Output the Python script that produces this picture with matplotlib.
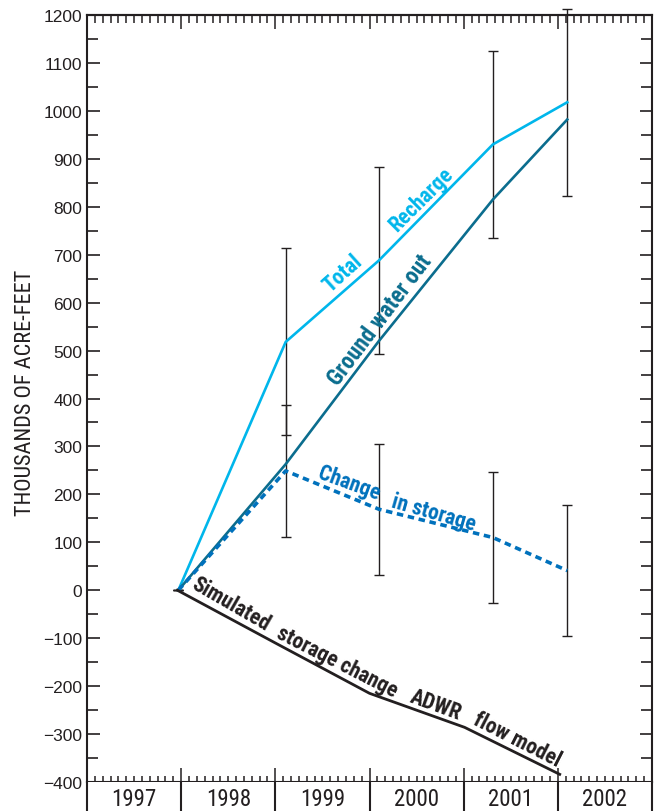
import matplotlib
matplotlib.use("Agg")
import matplotlib.pyplot as plt
from matplotlib import font_manager as fm
from matplotlib.ticker import MultipleLocator

# ---------------- data ----------------
point_years = [1997.97, 1999.11, 2000.10, 2001.31, 2002.10]
total_recharge = [0, 518, 688, 930, 1018]
groundwater_out = [0, 263, 520, 815, 982]
change_in_storage = [0, 249, 169, 110, 41]
recharge_err = [0, 195, 195, 195, 195]
storage_err = [0, 138, 137, 136, 137]

sim_years = [1997.96, 1999.0, 2000.0, 2001.01, 2002.02]
sim_storage = [0, -110, -215, -286, -384]

year_labels = ["1997", "1998", "1999", "2000", "2001", "2002"]
y_ticks = list(range(-400, 1201, 100))

# ---------------- fonts ----------------
_files = fm.findSystemFonts()


def _find(cands):
    for c in cands:
        for f in _files:
            if f.split("/")[-1].lower() == c.lower():
                return fm.FontProperties(fname=f)
    return None


NARROW_R = _find(["RobotoCondensed-Regular.ttf", "LiberationSansNarrow-Regular.ttf",
                  "PT_Sans-Narrow-Web-Regular.ttf", "DejaVuSansCondensed.ttf"]) \
    or fm.FontProperties(family="DejaVu Sans")
NARROW_B = _find(["RobotoCondensed-Bold.ttf", "LiberationSansNarrow-Bold.ttf",
                  "PT_Sans-Narrow-Web-Bold.ttf", "DejaVuSansCondensed-Bold.ttf"]) \
    or fm.FontProperties(family="DejaVu Sans", weight="bold")
names = {f.name for f in fm.fontManager.ttflist}
REG = "Liberation Sans" if "Liberation Sans" in names else "DejaVu Sans"

C_TOTAL = "#00b6eb"
C_GW = "#0b6d8e"
C_STOR = "#0071bc"
C_SIM = "#231f20"
C_AX = "#231f20"

fig = plt.figure(figsize=(6.59, 8.12), dpi=100)
W, H = 659, 812
left, right, top, bot = 87, 652, 16, 783
ax = fig.add_axes([left / W, 1 - bot / H, (right - left) / W, (bot - top) / H])
ax.set_xlim(1997, 2003)
ax.set_ylim(-400, 1200)

# error bars
ax.errorbar(point_years, total_recharge, yerr=recharge_err, fmt="none",
            ecolor=C_AX, elinewidth=1.0, capsize=3.5, capthick=1.0,
            clip_on=False, zorder=2)
ax.errorbar(point_years, change_in_storage, yerr=storage_err, fmt="none",
            ecolor=C_AX, elinewidth=1.0, capsize=3.5, capthick=1.0,
            clip_on=False, zorder=2)

# lines
ax.plot(point_years, total_recharge, color=C_TOTAL, lw=1.9, zorder=3)
ax.plot(point_years, groundwater_out, color=C_GW, lw=1.9, zorder=3)
ax.plot(point_years, change_in_storage, color=C_STOR, lw=2.6,
        dashes=(1.8, 1.3), zorder=3)
ax.plot(sim_years, sim_storage, color=C_SIM, lw=2.0, zorder=3)

# ticks
ax.set_yticks(y_ticks)
ax.yaxis.set_minor_locator(MultipleLocator(50))
ax.set_yticklabels([f"{v}".replace("-", "\u2212") for v in y_ticks],
                   fontsize=12.5, family=REG, color=C_AX)
ax.tick_params(axis="y", which="both", direction="in", left=True, right=True,
               color=C_AX, width=1.2, pad=3.5)
ax.tick_params(axis="y", which="major", length=9)
ax.tick_params(axis="y", which="minor", length=8)

ax.set_xticks(range(1997, 2004))
ax.xaxis.set_minor_locator(MultipleLocator(1 / 12))
ax.tick_params(axis="x", which="both", direction="in", bottom=True, top=False,
               labelbottom=False, color=C_AX, width=1.1)
ax.tick_params(axis="x", which="major", length=10)
ax.tick_params(axis="x", which="minor", length=4.5)

sec = ax.secondary_xaxis("top")
sec.set_xticks(range(1997, 2004))
sec.xaxis.set_minor_locator(MultipleLocator(1 / 12))
sec.tick_params(axis="x", which="both", direction="in", labeltop=False,
                color=C_AX, width=1.1)
sec.tick_params(axis="x", which="major", length=10)
sec.tick_params(axis="x", which="minor", length=6)
sec.spines["top"].set_linewidth(1.5)
sec.spines["top"].set_color(C_AX)

for s in ax.spines.values():
    s.set_linewidth(1.5)
    s.set_color(C_AX)

# y label
fig.text(26 / W, 1 - 393 / H, "THOUSANDS OF ACRE-FEET", rotation=90,
         ha="center", va="center", fontproperties=NARROW_R, fontsize=16,
         color=C_AX)

# year strip
sx = fig.add_axes([left / W, 0, (right - left) / W, (H - bot) / H])
sx.set_xlim(1997, 2003)
sx.set_ylim(0, 1)
sx.set_xticks([])
sx.set_yticks([])
for k in ("top", "bottom"):
    sx.spines[k].set_visible(False)
for k in ("left", "right"):
    sx.spines[k].set_linewidth(1.5)
    sx.spines[k].set_color(C_AX)
for yr in range(1998, 2003):
    sx.axvline(yr, color=C_AX, lw=1.5)
for i, lab in enumerate(year_labels):
    sx.text(1997 + i + 0.5, 0.44, lab, ha="center", va="center",
            fontproperties=NARROW_R, fontsize=16.5, color=C_AX)


def px(x, y):
    # label anchor in figure pixels (from top-left) -> figure fraction
    return x / W, 1 - y / H


bold = dict(ha="center", va="center", rotation_mode="anchor",
            fontproperties=NARROW_B, fontsize=15.5)
fig.text(*px(343, 274), "Total", rotation=42, color=C_TOTAL, **bold)
fig.text(*px(422, 200), "Recharge", rotation=45, color=C_TOTAL, **bold)
fig.text(*px(380, 320), "Ground water out", rotation=53, color=C_GW,
         ha="center", va="center", rotation_mode="anchor",
         fontproperties=NARROW_B, fontsize=16.5)
fig.text(*px(349, 484), "Change", rotation=-20, color=C_STOR, **bold)
fig.text(*px(434, 513), "in storage", rotation=-16, color=C_STOR, **bold)
fig.text(*px(231, 604), "Simulated", rotation=-30, color=C_SIM, **bold)
fig.text(*px(337, 662), "storage change", rotation=-27, color=C_SIM, **bold)
fig.text(*px(436, 705), "ADWR", rotation=-20, color=C_SIM, **bold)
fig.text(*px(517, 740), "flow model", rotation=-27, color=C_SIM, **bold)

fig.savefig("out.png", dpi=100)
